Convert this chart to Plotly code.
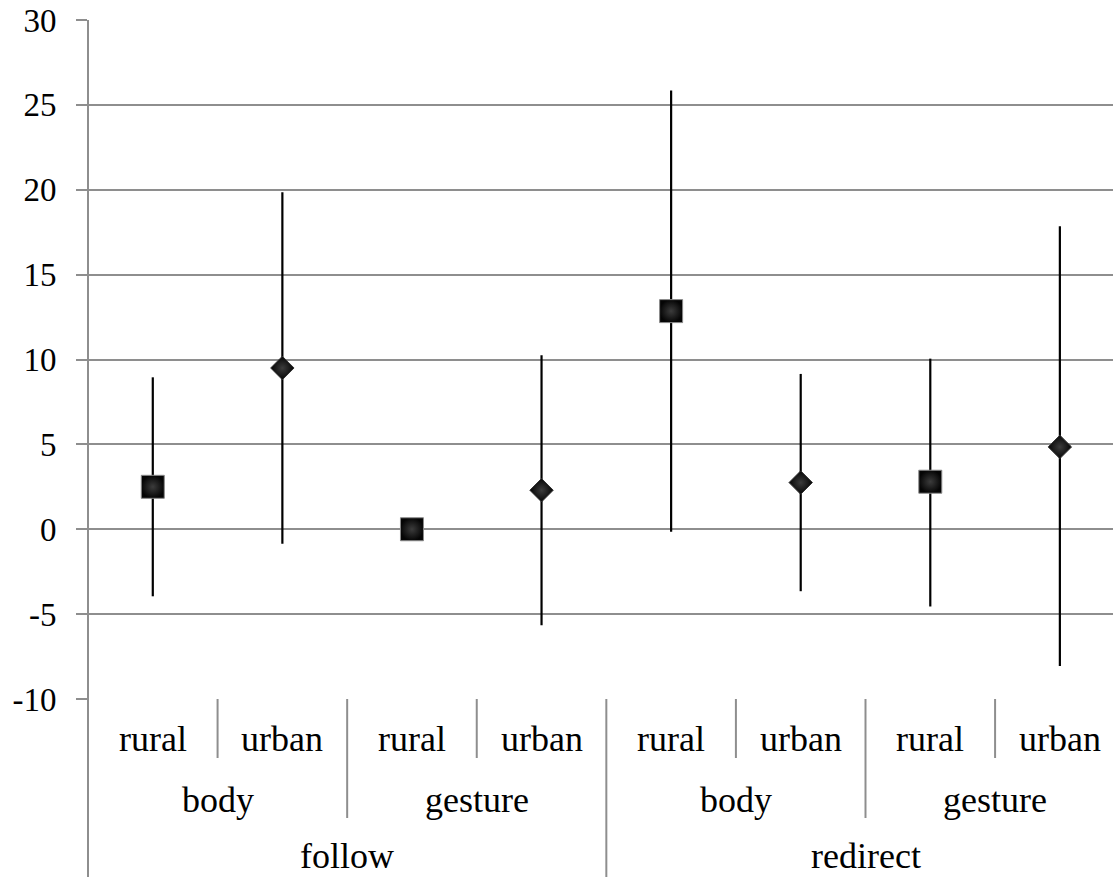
import plotly.graph_objects as go

# ---- data ----
level1 = ["rural", "urban", "rural", "urban", "rural", "urban", "rural", "urban"]
level2 = ["body", "gesture", "body", "gesture"]
level3 = ["follow", "redirect"]

values = [2.5, 9.5, 0.0, 2.3, 12.85, 2.75, 2.8, 4.85]
err_hi = [8.95, 19.85, 0.0, 10.25, 25.85, 9.15, 10.05, 17.85]
err_lo = [-3.95, -0.85, 0.0, -5.65, -0.15, -3.65, -4.55, -8.05]

y_ticks = [-10, -5, 0, 5, 10, 15, 20, 25, 30]

GRID = "#8e8e8e"
FONT = "Liberation Serif"

# plot area spans x 88..1113, y 20..699 on screen
PLOT_TOP = 20
PLOT_BOT = 699
PLOT_H = PLOT_BOT - PLOT_TOP
W, H = 1113, 877

xs = list(range(len(level1)))
fig = go.Figure()

for kind, symbol, size in [("rural", "square", 23), ("urban", "diamond", 18)]:
    idx = [i for i, c in enumerate(level1) if c == kind]
    fig.add_trace(go.Scatter(
        x=[xs[i] for i in idx],
        y=[values[i] for i in idx],
        mode="markers",
        marker=dict(symbol=symbol, size=size, color="#050505",
                    gradient=dict(type="radial", color="#3c3c3c"),
                    line=dict(color="#8a8a8a" if kind == "rural" else "#333", width=1)),
        error_y=dict(type="data", symmetric=False,
                     array=[err_hi[i] - values[i] for i in idx],
                     arrayminus=[values[i] - err_lo[i] for i in idx],
                     color="black", thickness=2.2, width=0),
        showlegend=False, cliponaxis=False,
    ))

ann = []
shapes = []
def ypx(px):
    return (PLOT_BOT - px) / float(PLOT_H)

lab_font = dict(size=36, family=FONT, color="black")
for i, lab in enumerate(level1):
    ann.append(dict(x=xs[i], y=ypx(739), xref="x", yref="paper", text=lab,
                    showarrow=False, yanchor="middle", font=lab_font))
for j, lab in enumerate(level2):
    ann.append(dict(x=2 * j + 0.5, y=ypx(800), xref="x", yref="paper", text=lab,
                    showarrow=False, yanchor="middle", font=lab_font))
for k, lab in enumerate(level3):
    ann.append(dict(x=4 * k + 1.5, y=ypx(856), xref="x", yref="paper", text=lab,
                    showarrow=False, yanchor="middle", font=lab_font))

for b in range(1, len(level1)):
    xb = b - 0.5
    if b % 4 == 0:
        y1 = ypx(880)
    elif b % 2 == 0:
        y1 = ypx(818)
    else:
        y1 = ypx(758)
    shapes.append(dict(type="line", xref="x", yref="paper", x0=xb, x1=xb, y0=0, y1=y1,
                       line=dict(color=GRID, width=2)))
shapes.append(dict(type="line", xref="paper", yref="paper", x0=0, x1=0, y0=1, y1=ypx(880),
                   line=dict(color=GRID, width=2)))

fig.update_layout(
    width=W, height=H,
    margin=dict(l=88, r=0, t=PLOT_TOP, b=H - PLOT_BOT),
    paper_bgcolor="white", plot_bgcolor="white",
    font=dict(family=FONT, size=33, color="black"),
    annotations=ann, shapes=shapes,
    xaxis=dict(range=[-0.5, 7.41], showticklabels=False, showgrid=False,
               zeroline=False, showline=False, ticks="", automargin=False),
    yaxis=dict(range=[-10, 30], tickvals=y_ticks, ticktext=[str(v) for v in y_ticks],
               showgrid=True, gridcolor=GRID, gridwidth=2, zeroline=False,
               showline=False, ticks="outside", ticklen=11, tickcolor=GRID, tickwidth=2,
               ticklabelstandoff=13, ticklabeloverflow="allow", automargin=False,
               tickfont=dict(size=33, family=FONT, color="black")),
)

fig.write_html("out.html", config={"displayModeBar": False},
               post_script="document.body.style.margin='0';document.body.style.overflow='hidden';")
